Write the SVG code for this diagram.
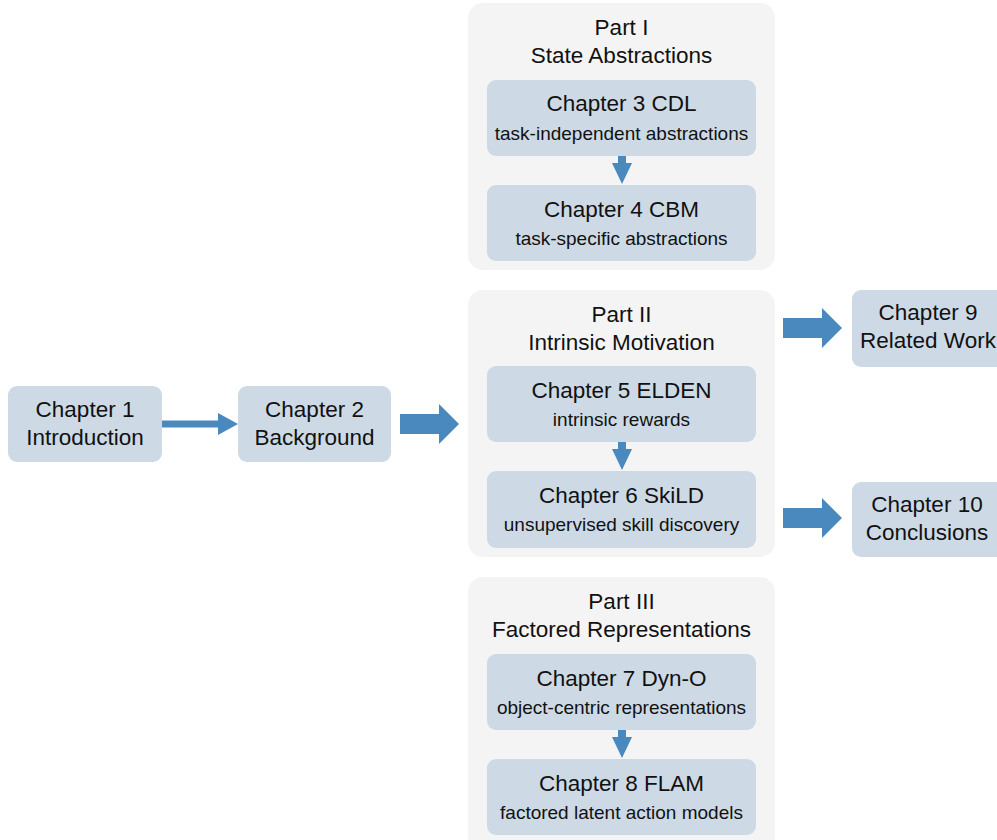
<svg xmlns="http://www.w3.org/2000/svg" width="997" height="840" viewBox="0 0 997 840">
<style>
.part{fill:#f4f4f4;}
.node{fill:#cddae5;}
.t{font-family:"Liberation Sans",sans-serif;font-size:22.5px;fill:#111;text-anchor:middle;}
.s{font-family:"Liberation Sans",sans-serif;font-size:19px;fill:#111;text-anchor:middle;}
.arr{fill:#4a89bd;}
</style>
<rect width="997" height="840" fill="#ffffff"/>
<g id="part1"><rect class="part" x="468" y="3" width="307" height="267" rx="15"/>
<text class="t" x="621.5" y="35">Part I</text><text class="t" x="621.5" y="63">State Abstractions</text></g>
<g id="part2"><rect class="part" x="468" y="290" width="307" height="267" rx="15"/>
<text class="t" x="621.5" y="322">Part II</text><text class="t" x="621.5" y="350">Intrinsic Motivation</text></g>
<g id="part3"><rect class="part" x="468" y="577" width="307" height="280" rx="15"/>
<text class="t" x="621.5" y="609">Part III</text><text class="t" x="621.5" y="637">Factored Representations</text></g>
<g id="ch1"><rect class="node" x="8" y="386" width="154" height="76" rx="9"/>
<text class="t" x="85" y="417">Chapter 1</text><text class="t" x="85" y="445">Introduction</text></g>
<g id="ch2"><rect class="node" x="238" y="386" width="153" height="76" rx="9"/>
<text class="t" x="314.5" y="417">Chapter 2</text><text class="t" x="314.5" y="445">Background</text></g>
<g id="ch3"><rect class="node" x="487" y="80" width="269" height="76" rx="9"/>
<text class="t" x="621.5" y="111">Chapter 3 CDL</text><text class="s" x="621.5" y="140">task-independent abstractions</text></g>
<g id="ch4"><rect class="node" x="487" y="185" width="269" height="76" rx="9"/>
<text class="t" x="621.5" y="217">Chapter 4 CBM</text><text class="s" x="621.5" y="245">task-specific abstractions</text></g>
<g id="ch5"><rect class="node" x="487" y="366" width="269" height="76" rx="9"/>
<text class="t" x="621.5" y="398">Chapter 5 ELDEN</text><text class="s" x="621.5" y="426">intrinsic rewards</text></g>
<g id="ch6"><rect class="node" x="487" y="471" width="269" height="77" rx="9"/>
<text class="t" x="621.5" y="503">Chapter 6 SkiLD</text><text class="s" x="621.5" y="531">unsupervised skill discovery</text></g>
<g id="ch7"><rect class="node" x="487" y="654" width="269" height="76" rx="9"/>
<text class="t" x="621.5" y="686">Chapter 7 Dyn-O</text><text class="s" x="621.5" y="714">object-centric representations</text></g>
<g id="ch8"><rect class="node" x="487" y="759" width="269" height="76" rx="9"/>
<text class="t" x="621.5" y="791">Chapter 8 FLAM</text><text class="s" x="621.5" y="819">factored latent action models</text></g>
<g id="ch9"><rect class="node" x="852" y="290" width="154" height="77" rx="9"/>
<text class="t" x="928" y="320">Chapter 9</text><text class="t" x="928" y="348">Related Work</text></g>
<g id="ch10"><rect class="node" x="852" y="482" width="154" height="75" rx="9"/>
<text class="t" x="927" y="512">Chapter 10</text><text class="t" x="927" y="540">Conclusions</text></g>
<g id="connectors">
<polygon class="arr" points="162,420.5 218,420.5 218,413 238,424 218,435 218,427.5 162,427.5"/>
<polygon class="arr" points="400,414 439,414 439,404 459,424 439,444 439,434 400,434"/>
<polygon class="arr" points="783,318 822,318 822,308 842,328 822,348 822,338 783,338"/>
<polygon class="arr" points="783,508 822,508 822,498 842,518 822,538 822,528 783,528"/>
<polygon class="arr" points="618,156 626,156 626,163 632,163 622,184 612,163 618,163"/>
<polygon class="arr" points="618,442 626,442 626,449 632,449 622,470 612,449 618,449"/>
<polygon class="arr" points="618,730 626,730 626,737 632,737 622,758 612,737 618,737"/>
</g>
</svg>
